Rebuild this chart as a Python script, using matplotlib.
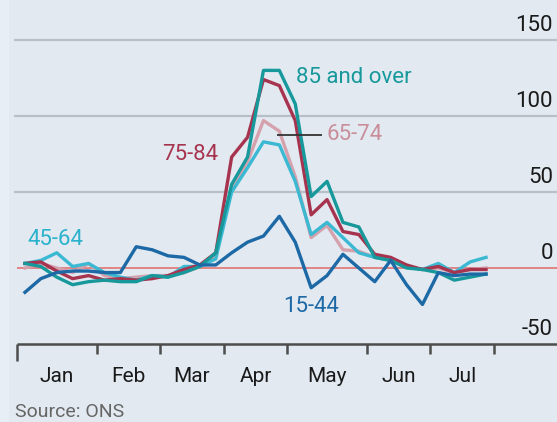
import matplotlib
matplotlib.use("Agg")
import matplotlib.pyplot as plt
import numpy as np

# ---------------- data ----------------
weeks = np.arange(30) + 0.5          # weekly points, mid-week
month_labels = ["Jan", "Feb", "Mar", "Apr", "May", "Jun", "Jul"]
month_starts = [0, 5, 9, 13, 17, 22, 26, 30]   # week index where each month starts
y_ticks = [-50, 0, 50, 100, 150]

age_15_44 = [-16, -7, -3, -2, -2, -3, -3, 14, 12, 8, 7, 2, 2, 10, 17, 21, 34, 17,
             -13, -5, 9, 0, -9, 5, -11, -24, -3, -5, -4, -4]
age_45_64 = [3, 5, 10, 1, 3, -3, -6, -8, -5, -6, 1, 1, 6, 50, 66, 83, 81, 57,
             22, 30, 20, 10, 7, 5, 1, -1, 3, -3, 4, 7]
age_65_74 = [0, 3, 0, -3, 3, -5, -7, -6, -5, -5, -3, 1, 8, 52, 70, 97, 90, 60,
             20, 28, 12, 11, 7, 5, 1, -1, 0, -3, -1, 0]
age_75_84 = [3, 4, -2, -7, -5, -8, -7, -8, -7, -5, -1, 2, 10, 73, 86, 124, 120, 97,
             35, 45, 24, 22, 9, 7, 2, -1, 1, -3, -1, -1]
age_85_plus = [3, 1, -6, -11, -9, -8, -9, -9, -5, -6, -3, 1, 10, 55, 73, 130, 130, 108,
               47, 57, 30, 27, 7, 5, 0, -1, -3, -8, -6, -4]

series_names = ["65-74", "45-64", "75-84", "85 and over", "15-44"]
series_values = [age_65_74, age_45_64, age_75_84, age_85_plus, age_15_44]
series_colors = ["#d5a1ac", "#3cb9d2", "#a7344f", "#17999c", "#1c69a6"]

# ---------------- style ----------------
FONT = ["Roboto", "DejaVu Sans"]
plt.rcParams["font.family"] = FONT
BG = "#e2e9f1"

W, H = 557, 422
fig = plt.figure(figsize=(W / 100, H / 100), dpi=100)
fig.patch.set_facecolor(BG)
ax = fig.add_axes([0, 0, 1, 1])
ax.set_facecolor(BG)

px_per_week = 15.9
x0_px = 17
y0_px = 268
px_per_unit = 76 / 50.0

def px_to_x(px):
    return (px - x0_px) / px_per_week

def px_to_y(py):
    return (y0_px - py) / px_per_unit

ax.set_xlim(px_to_x(0), px_to_x(W))
ax.set_ylim(px_to_y(H), px_to_y(0))
ax.axis("off")

# lighter strip at the left edge
ax.axvspan(px_to_x(0), px_to_x(9), color="#e8eef5", lw=0, zorder=0)

# gridlines
for v in y_ticks[2:]:
    ax.hlines(v, px_to_x(14), px_to_x(W), color="#b7bfc8", lw=1.6, zorder=1)
# zero line
ax.hlines(0, 0, px_to_x(W), color="#e06a68", lw=1.1, zorder=1)
# baseline axis
ax.hlines(y_ticks[0], 0, px_to_x(W), color="#4d4d4d", lw=1.8, zorder=3)
tick_len = 10 / px_per_unit
ax.vlines(month_starts[1:], y_ticks[0] - tick_len, y_ticks[0], color="#4d4d4d", lw=1.8, zorder=3)
ax.vlines(month_starts[0], y_ticks[0] - 17 / px_per_unit, y_ticks[0], color="#4d4d4d", lw=1.8, zorder=3)

# month labels
for i, m in enumerate(month_labels):
    xc = (month_starts[i] + month_starts[i + 1]) / 2
    ax.text(xc, px_to_y(376), m, ha="center", va="center", fontsize=15, color="#1a1a1a")

# y tick labels
for v in y_ticks:
    ax.text(px_to_x(553), v + 4 / px_per_unit, f"{v}", ha="right", va="bottom",
            fontsize=16, color="#1a1a1a")

# lines
for name, vals, col in zip(series_names, series_values, series_colors):
    ax.plot(weeks, vals, color=col, lw=2.4, solid_joinstyle="round", zorder=4)

# series labels
ax.text(px_to_x(296), px_to_y(77), "85 and over", color="#17999c", fontsize=16, ha="left", va="center")
ax.text(px_to_x(327), px_to_y(134), "65-74", color="#c98e9a", fontsize=16, ha="left", va="center")
ax.hlines(px_to_y(135), px_to_x(277), px_to_x(322), color="#333333", lw=1.3, zorder=5)
ax.text(px_to_x(162), px_to_y(154), "75-84", color="#a7344f", fontsize=16, ha="left", va="center")
ax.text(px_to_x(27), px_to_y(239), "45-64", color="#2bb2cc", fontsize=16, ha="left", va="center")
ax.text(px_to_x(283), px_to_y(306), "15-44", color="#1c69a6", fontsize=16, ha="left", va="center")

# source
fig.text(15 / W, 1 - 412 / H, "Source: ONS", ha="left", va="center", fontsize=14, color="#666666")

fig.savefig("out.png", dpi=100, facecolor=BG)
